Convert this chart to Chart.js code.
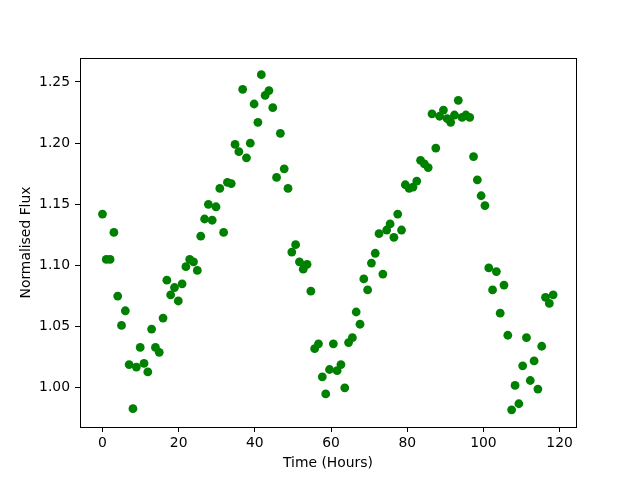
<!DOCTYPE html>
<html>
<head>
<meta charset="utf-8">
<script src="https://cdn.jsdelivr.net/npm/chart.js@4/dist/chart.umd.min.js"></script>
<style>
  html, body { margin: 0; padding: 0; background: #fff; }
  #wrap { width: 640px; height: 480px; }
</style>
</head>
<body>
<div id="wrap"><canvas id="fluxChart" width="640" height="480"></canvas></div>
<script>
// Observation times (hours)
const hours = [
  0.0, 1.0, 2.0, 3.0, 4.0, 5.0, 6.0, 7.0, 8.0, 8.9,
  9.9, 10.9, 11.9, 12.9, 13.9, 14.9, 15.9, 16.9, 17.9, 18.9,
  19.9, 20.9, 21.9, 22.9, 23.9, 24.9, 25.8, 26.8, 27.8, 28.8,
  29.8, 30.8, 31.8, 32.8, 33.8, 34.8, 35.8, 36.8, 37.8, 38.8,
  39.8, 40.8, 41.7, 42.7, 43.7, 44.7, 45.7, 46.7, 47.7, 48.7,
  49.7, 50.7, 51.7, 52.7, 53.7, 54.7, 55.7, 56.7, 57.7, 58.6,
  59.6, 60.6, 61.6, 62.6, 63.6, 64.6, 65.6, 66.6, 67.6, 68.6,
  69.6, 70.6, 71.6, 72.6, 73.6, 74.6, 75.5, 76.5, 77.5, 78.5,
  79.5, 80.5, 81.5, 82.5, 83.5, 84.5, 85.5, 86.5, 87.5, 88.5,
  89.5, 90.5, 91.4, 92.4, 93.4, 94.4, 95.4, 96.4, 97.4, 98.4,
  99.4, 100.4, 101.4, 102.4, 103.4, 104.4, 105.4, 106.4, 107.4, 108.3,
  109.3, 110.3, 111.3, 112.3, 113.3, 114.3, 115.3, 116.3, 117.3, 118.3
];

// Normalised flux readings
const flux = [
  1.142, 1.105, 1.105, 1.127, 1.075, 1.051, 1.063, 1.019, 0.983, 1.017,
  1.033, 1.020, 1.013, 1.048, 1.033, 1.029, 1.057, 1.088, 1.076, 1.082,
  1.071, 1.085, 1.099, 1.105, 1.103, 1.096, 1.124, 1.138, 1.150, 1.137,
  1.148, 1.163, 1.127, 1.168, 1.167, 1.199, 1.193, 1.244, 1.188, 1.200,
  1.232, 1.217, 1.256, 1.239, 1.243, 1.229, 1.172, 1.208, 1.179, 1.163,
  1.111, 1.117, 1.103, 1.097, 1.101, 1.079, 1.032, 1.036, 1.009, 0.995,
  1.015, 1.036, 1.014, 1.019, 1.000, 1.037, 1.041, 1.062, 1.052, 1.089,
  1.080, 1.102, 1.110, 1.126, 1.093, 1.129, 1.134, 1.123, 1.142, 1.129,
  1.166, 1.163, 1.164, 1.169, 1.186, 1.183, 1.180, 1.224, 1.196, 1.222,
  1.227, 1.220, 1.217, 1.223, 1.235, 1.221, 1.223, 1.221, 1.189, 1.170,
  1.157, 1.149, 1.098, 1.080, 1.095, 1.061, 1.084, 1.043, 0.982, 1.002,
  0.987, 1.018, 1.041, 1.006, 1.022, 0.999, 1.034, 1.074, 1.069, 1.076
];

const xTicks = [0, 20, 40, 60, 80, 100, 120];
const yTicks = [1.00, 1.05, 1.10, 1.15, 1.20, 1.25];

const points = hours.map((h, i) => ({ x: h, y: flux[i] }));

// black frame round the plot area, like matplotlib
const frame = {
  id: "frame",
  afterDraw(chart) {
    const { ctx, chartArea: a } = chart;
    ctx.save();
    ctx.strokeStyle = "#000";
    ctx.lineWidth = 1;
    ctx.strokeRect(Math.round(a.left) + 0.5, Math.round(a.top) + 0.5,
                   Math.round(a.right - a.left), Math.round(a.bottom - a.top));
    ctx.restore();
  }
};

const bg = {
  id: "bg",
  beforeDraw(chart) {
    const ctx = chart.ctx;
    ctx.save();
    ctx.fillStyle = "#fff";
    ctx.fillRect(0, 0, chart.width, chart.height);
    ctx.restore();
  }
};

const font = { family: "DejaVu Sans", size: 13.9 };

const fluxChart = new Chart(document.getElementById("fluxChart"), {
  type: "scatter",
  data: {
    datasets: [{
      data: points,
      backgroundColor: "#008000",
      borderWidth: 0,
      pointRadius: 4.4,
      pointHoverRadius: 4.4
    }]
  },
  options: {
    responsive: false,
    animation: false,
    layout: { padding: { left: 0, top: 58, right: 64, bottom: 0 } },
    plugins: { legend: { display: false }, tooltip: { enabled: false } },
    scales: {
      x: {
        type: "linear",
        min: -5.9,
        max: 124.3,
        afterBuildTicks: s => { s.ticks = xTicks.map(v => ({ value: v })); },
        afterFit: s => { s.height = 53; },
        grid: { drawOnChartArea: false, tickLength: 5, color: "#000" },
        border: { display: true, color: "#000" },
        ticks: { color: "#000", font: font, padding: 3, maxRotation: 0 },
        title: { display: true, text: "Time (Hours)", color: "#000", font: font, padding: { top: 0, bottom: 8 } }
      },
      y: {
        min: 0.968,
        max: 1.2696,
        afterBuildTicks: s => { s.ticks = yTicks.map(v => ({ value: v })); },
        afterFit: s => { s.width = 80; },
        grid: { drawOnChartArea: false, tickLength: 5, color: "#000" },
        border: { display: true, color: "#000" },
        ticks: { color: "#000", font: font, padding: 5, callback: v => v.toFixed(2) },
        title: { display: true, text: "Normalised Flux", color: "#000", font: font, padding: { top: 18, bottom: 0 } }
      }
    }
  },
  plugins: [bg, frame]
});
</script>
</body>
</html>
